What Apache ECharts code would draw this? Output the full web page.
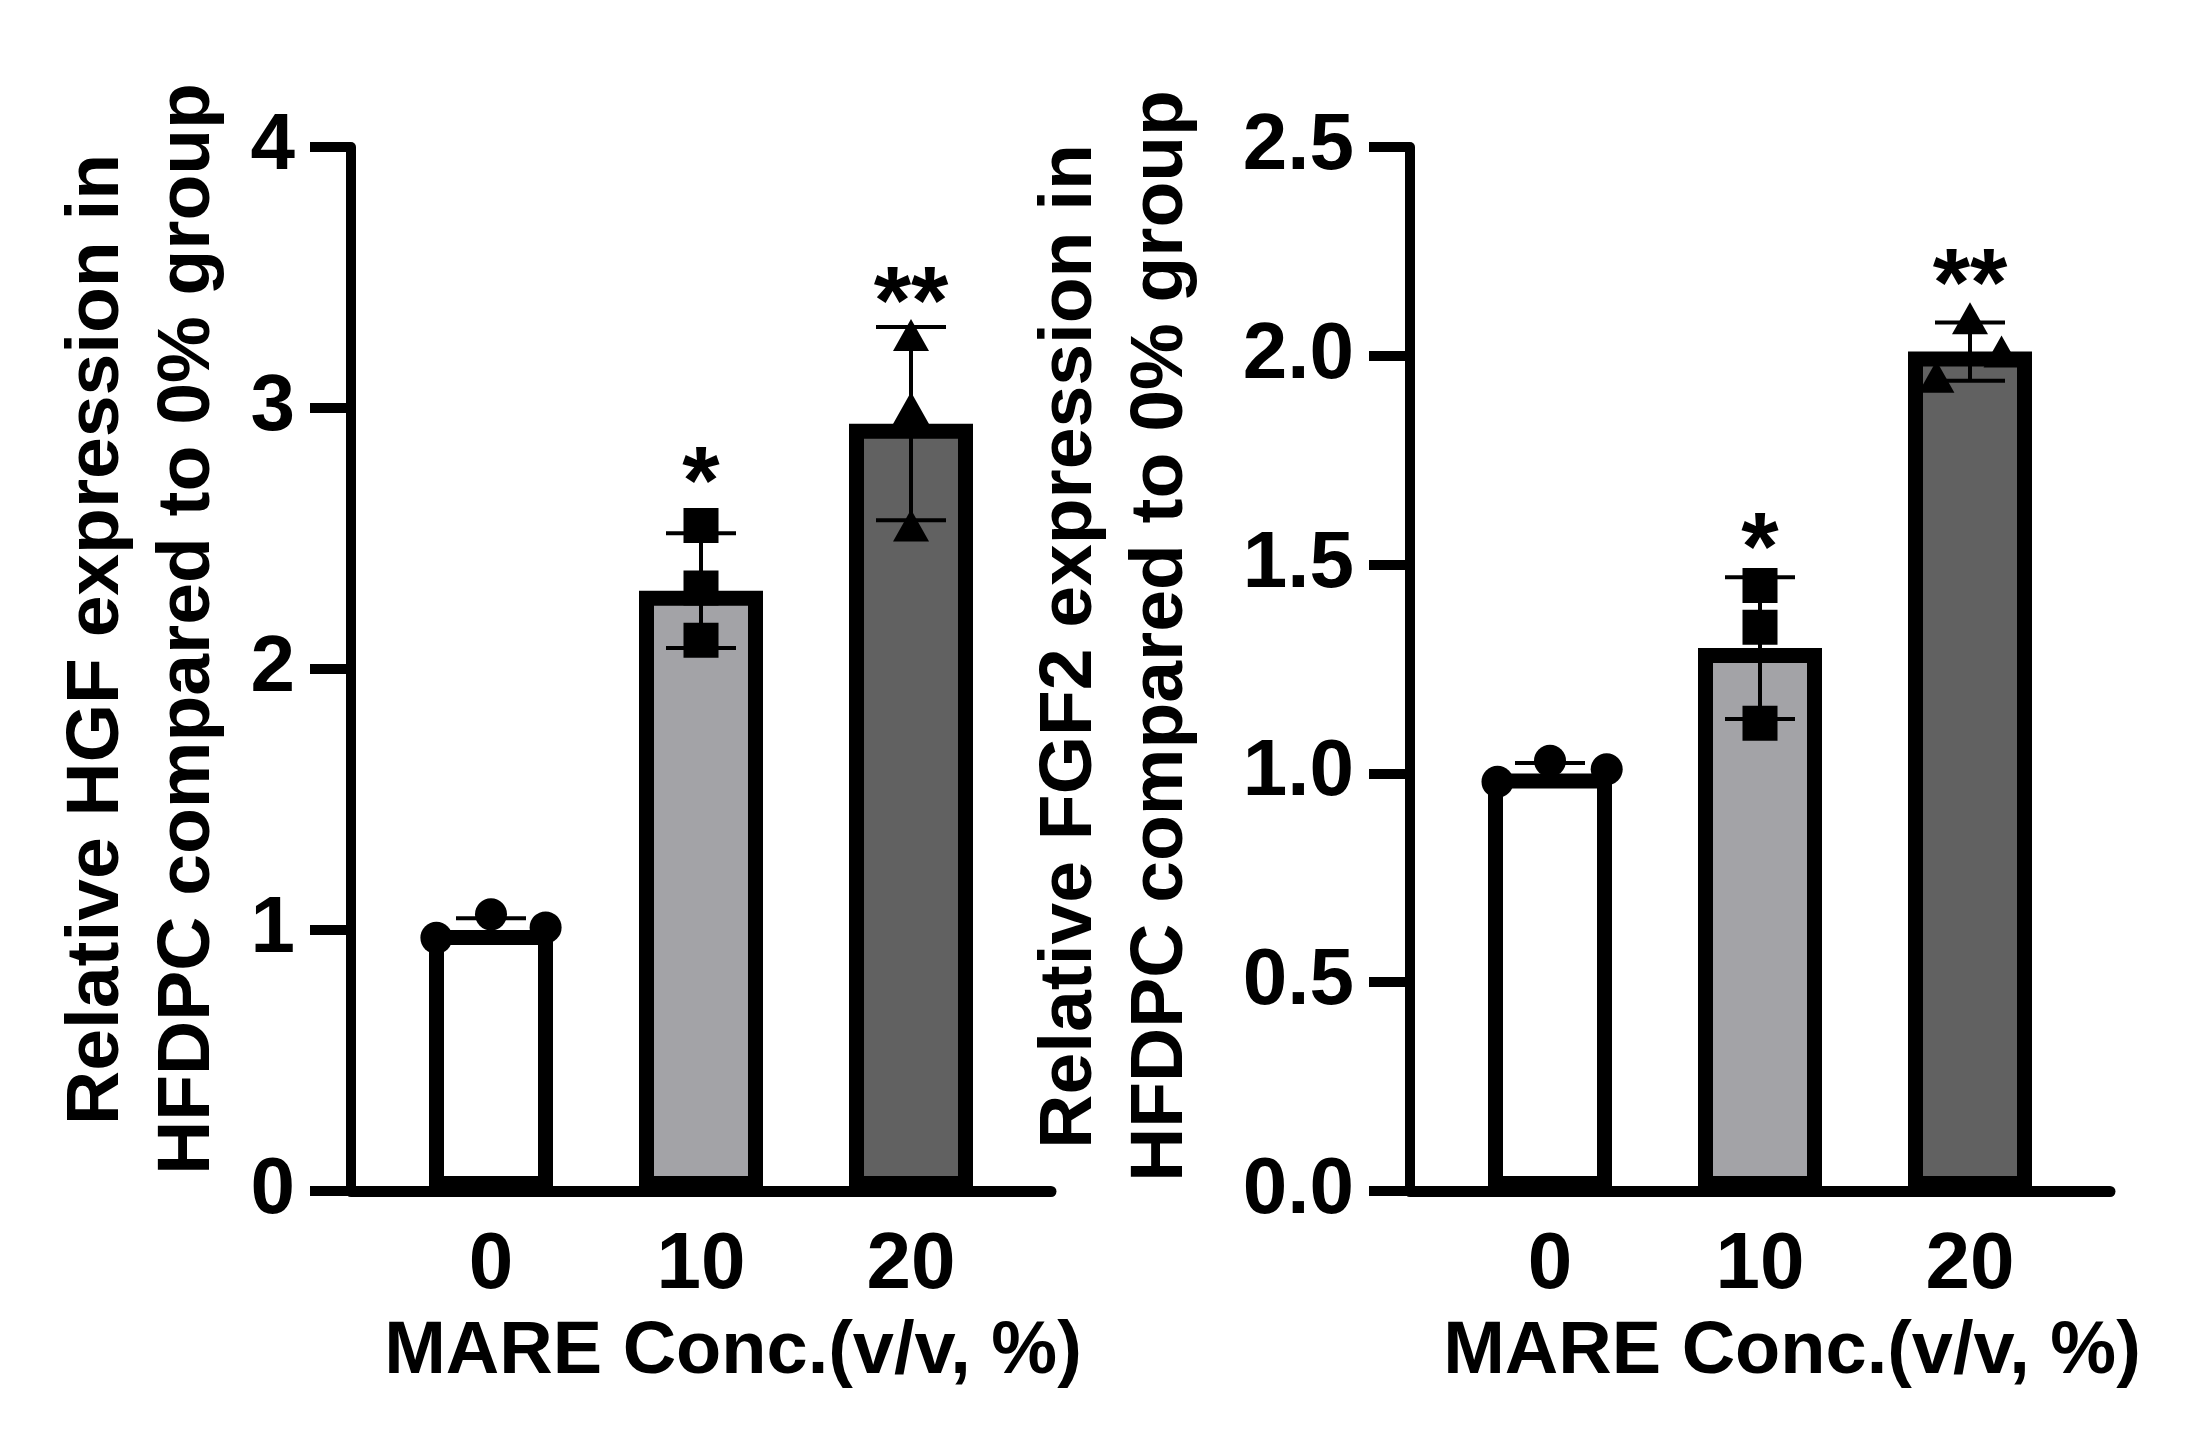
<!DOCTYPE html>
<html>
<head>
<meta charset="utf-8">
<script src="https://cdn.jsdelivr.net/npm/echarts@6/dist/echarts.min.js"></script>
<style>
  html, body { margin: 0; padding: 0; background: #fff; }
  #chart { width: 2188px; height: 1441px; }
</style>
</head>
<body>
<div id="chart"></div>
<script>
// groups on the x axis (MARE concentration, %)
var groups = ['0', '10', '20'];

// left panel: HGF
var hgfMean = [1.00, 2.30, 2.94];
var hgfSd = [0.045, 0.22, 0.37];
var hgfPoints = [[0.97, 1.06, 1.01], [2.55, 2.31, 2.11], [3.28, 3.00, 2.55]];
var hgfJitter = [[-0.26, 0, 0.26], [0, 0, 0], [0, 0, 0]];
var hgfStars = ['', '*', '**'];
var hgfStarY = [null, 2.70, 3.39];
var hgfTicks = [0, 1, 2, 3, 4];

// right panel: FGF2
var fgfMean = [1.00, 1.30, 2.01];
var fgfSd = [0.025, 0.17, 0.07];
var fgfPoints = [[0.98, 1.03, 1.01], [1.45, 1.35, 1.12], [2.09, 1.95, 2.01]];
var fgfJitter = [[-0.25, 0, 0.27], [0, 0, 0], [0, -0.16, 0.15]];
var fgfStars = ['', '*', '**'];
var fgfStarY = [null, 1.53, 2.16];
var fgfTicks = [0, 0.5, 1.0, 1.5, 2.0, 2.5];

var barColors = ['#ffffff', '#a3a3a7', '#616161'];
var symbols = ['circle', 'rect', 'triangle'];
var symbolSizes = [32, 35, [36, 32]];
var font = '"Liberation Sans", Arial, sans-serif';

var myChart = echarts.init(document.getElementById('chart'));

function errorBarItem(params, api) {
    var x = api.value(0);
    var lo = api.coord([x, api.value(1)]);
    var hi = api.coord([x, api.value(2)]);
    var half = 35;
    var st = { stroke: '#000', lineWidth: 4 };
    return {
        type: 'group',
        children: [
            { type: 'line', shape: { x1: lo[0], y1: lo[1], x2: hi[0], y2: hi[1] }, style: st },
            { type: 'line', shape: { x1: hi[0] - half, y1: hi[1], x2: hi[0] + half, y2: hi[1] }, style: st },
            { type: 'line', shape: { x1: lo[0] - half, y1: lo[1], x2: lo[0] + half, y2: lo[1] }, style: st }
        ]
    };
}

function panelSeries(idx, mean, sd, points, jitter, stars, starY) {
    var bars = [], errs = [], dots = [], marks = [];
    for (var i = 0; i < groups.length; i++) {
        bars.push({ value: [i, mean[i]], itemStyle: { color: barColors[i] } });
        errs.push([i, mean[i] - sd[i], mean[i] + sd[i]]);
        for (var j = 0; j < points[i].length; j++) {
            dots.push({ value: [i + jitter[i][j], points[i][j]], symbol: symbols[i], symbolSize: symbolSizes[i] });
        }
        if (stars[i]) marks.push({ name: stars[i], value: [i, starY[i]] });
    }
    return [
        {
            type: 'bar', xAxisIndex: idx, yAxisIndex: idx, data: bars, barWidth: 124, z: 2,
            itemStyle: { borderColor: '#000', borderWidth: 15 }, silent: true
        },
        {
            type: 'custom', xAxisIndex: idx, yAxisIndex: idx, data: errs, z: 3,
            renderItem: errorBarItem, silent: true
        },
        {
            type: 'scatter', xAxisIndex: idx, yAxisIndex: idx, data: dots, z: 4,
            itemStyle: { color: '#000', opacity: 1 }, silent: true
        },
        {
            type: 'scatter', xAxisIndex: idx, yAxisIndex: idx, data: marks, z: 5,
            symbolSize: 0, silent: true,
            itemStyle: { color: '#000', opacity: 1 },
            label: {
                show: true, position: 'inside', formatter: '{b}',
                fontSize: 96, fontWeight: 'bold', color: '#000', textBorderWidth: 0, fontFamily: font
            }
        }
    ];
}

function xAxisFor(idx) {
    return {
        type: 'value', gridIndex: idx, min: -2 / 3, max: 8 / 3,
        axisLine: { show: true, onZero: false, lineStyle: { color: '#000', width: 11 } },
        axisTick: { show: false },
        splitLine: { show: false },
        axisLabel: {
            customValues: [0, 1, 2],
            formatter: function (v) { return groups[Math.round(v)]; },
            margin: 35, fontSize: 80, fontWeight: 'bold', color: '#000', fontFamily: font
        },
        name: 'MARE Conc.(v/v, %)', nameLocation: 'middle', nameGap: 125,
        nameTextStyle: { fontSize: 74, fontWeight: 'bold', color: '#000', fontFamily: font, padding: [0, 0, 0, 64] }
    };
}

function yAxisFor(idx, ticks, name, gap, pad, digits) {
    return {
        type: 'value', gridIndex: idx,
        min: ticks[0], max: ticks[ticks.length - 1], interval: ticks[1] - ticks[0],
        axisLine: { show: true, onZero: false, lineStyle: { color: '#000', width: 10 } },
        axisTick: { show: true, length: 41, lineStyle: { color: '#000', width: 10 } },
        splitLine: { show: false },
        axisLabel: {
            margin: 56, fontSize: 80, fontWeight: 'bold', color: '#000', fontFamily: font,
            formatter: function (v) { return v.toFixed(digits); }
        },
        name: name, nameLocation: 'middle', nameGap: gap, nameRotate: 90,
        nameTextStyle: {
            fontSize: 75, lineHeight: 91, fontWeight: 'bold', color: '#000', fontFamily: font,
            padding: [0, 0, 0, pad]
        }
    };
}

var option = {
    backgroundColor: '#fff',
    animation: false,
    grid: [
        { left: 351, top: 147, width: 700, height: 1044 },
        { left: 1410, top: 147, width: 700, height: 1044 }
    ],
    xAxis: [xAxisFor(0), xAxisFor(1)],
    yAxis: [
        yAxisFor(0, hgfTicks, 'Relative HGF expression in \nHFDPC compared to 0% group', 117, 80, 0),
        yAxisFor(1, fgfTicks, 'Relative FGF2 expression in \nHFDPC compared to 0% group', 203, 66, 1)
    ],
    series: panelSeries(0, hgfMean, hgfSd, hgfPoints, hgfJitter, hgfStars, hgfStarY)
        .concat(panelSeries(1, fgfMean, fgfSd, fgfPoints, fgfJitter, fgfStars, fgfStarY))
};

myChart.setOption(option);
</script>
</body>
</html>
